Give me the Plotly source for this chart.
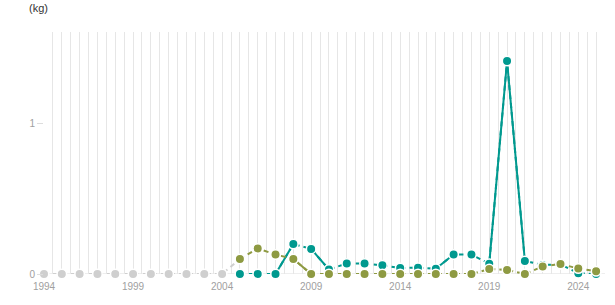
import plotly.graph_objects as go

# ---- data ----
grey_years = list(range(1994, 2006))
grey_vals = [0] * 11 + [0.10]  # last point joins the olive series start

years = list(range(2005, 2026))
teal_vals = [0, 0, 0, 0.20, 0.167, 0.03, 0.07, 0.07, 0.058, 0.04, 0.042, 0.035,
             0.13, 0.13, 0.068, 1.42, 0.087, 0.06, 0.065, 0.005, 0.0]
olive_vals = [0.10, 0.17, 0.13, 0.10, 0, 0, 0, 0, 0, 0, 0, 0,
              0, 0, 0.033, 0.027, 0, 0.05, 0.067, 0.036, 0.018]

# segments drawn solid (start years)
teal_solid_starts = [2007, 2009, 2016, 2019, 2020]
olive_solid_starts = [2008]

tick_years = [1994, 1999, 2004, 2009, 2014, 2019, 2024]

TEAL = "#00998f"
OLIVE = "#8e9a42"
GREY = "#cfcfcf"


def solid_segments(xs, ys, starts):
    sx, sy = [], []
    for s in starts:
        i = xs.index(s)
        sx += [xs[i], xs[i + 1], None]
        sy += [ys[i], ys[i + 1], None]
    return sx, sy


fig = go.Figure()
dash = "5px,4px"
mk = dict(size=9.5, line=dict(color="white", width=1.5))

# grey early series
fig.add_trace(go.Scatter(x=grey_years, y=grey_vals, mode="lines",
                         line=dict(color=GREY, width=2, dash=dash), cliponaxis=False))
fig.add_trace(go.Scatter(x=grey_years[:-1], y=grey_vals[:-1], mode="markers",
                         marker=dict(color=GREY, **mk), cliponaxis=False))

# teal series
fig.add_trace(go.Scatter(x=years, y=teal_vals, mode="lines",
                         line=dict(color=TEAL, width=2, dash=dash), cliponaxis=False))
sx, sy = solid_segments(years, teal_vals, teal_solid_starts)
fig.add_trace(go.Scatter(x=sx, y=sy, mode="lines", connectgaps=False,
                         line=dict(color=TEAL, width=2), cliponaxis=False))
fig.add_trace(go.Scatter(x=years, y=teal_vals, mode="markers",
                         marker=dict(color=TEAL, **mk), cliponaxis=False))

# olive series
fig.add_trace(go.Scatter(x=years, y=olive_vals, mode="lines",
                         line=dict(color=OLIVE, width=2, dash=dash), cliponaxis=False))
sx, sy = solid_segments(years, olive_vals, olive_solid_starts)
fig.add_trace(go.Scatter(x=sx, y=sy, mode="lines", connectgaps=False,
                         line=dict(color=OLIVE, width=2), cliponaxis=False))
fig.add_trace(go.Scatter(x=years, y=olive_vals, mode="markers",
                         marker=dict(color=OLIVE, **mk), cliponaxis=False))

fig.update_layout(
    width=615, height=305,
    margin=dict(l=44, r=10, t=32, b=31),
    paper_bgcolor="white", plot_bgcolor="white",
    showlegend=False,
    font=dict(family="Liberation Sans, Arial, sans-serif", size=10, color="#a0a0a0"),
    xaxis=dict(range=[1994, 2025.5], tickvals=tick_years,
               ticktext=[str(y) for y in tick_years],
               showgrid=True, gridcolor="#e6e6e6", gridwidth=1,
               minor=dict(dtick=0.5, tick0=1994, showgrid=True, gridcolor="#e6e6e6", gridwidth=1),
               showline=False, zeroline=False, ticks="", fixedrange=True,
               ticklabelstandoff=5,
               tickfont=dict(size=10, color="#a0a0a0")),
    yaxis=dict(range=[0, 1.613], tickvals=[0, 1], ticktext=["0", "1"],
               showgrid=False, zeroline=False, showline=False,
               ticks="outside", ticklen=6, tickcolor="#dddddd",
               tickfont=dict(size=10, color="#a0a0a0")),
    shapes=[dict(type="line", xref="paper", yref="y", x0=0, x1=1, y0=0, y1=0,
                 line=dict(color="#dddddd", width=1), layer="below")],
    annotations=[dict(text="(kg)", xref="paper", yref="paper",
                      x=(27 - 44) / 561, y=1 + (32 - 8) / 242,
                      xanchor="left", yanchor="middle", showarrow=False,
                      font=dict(size=11, color="#333333"))],
)

fig.write_html("out.html")
